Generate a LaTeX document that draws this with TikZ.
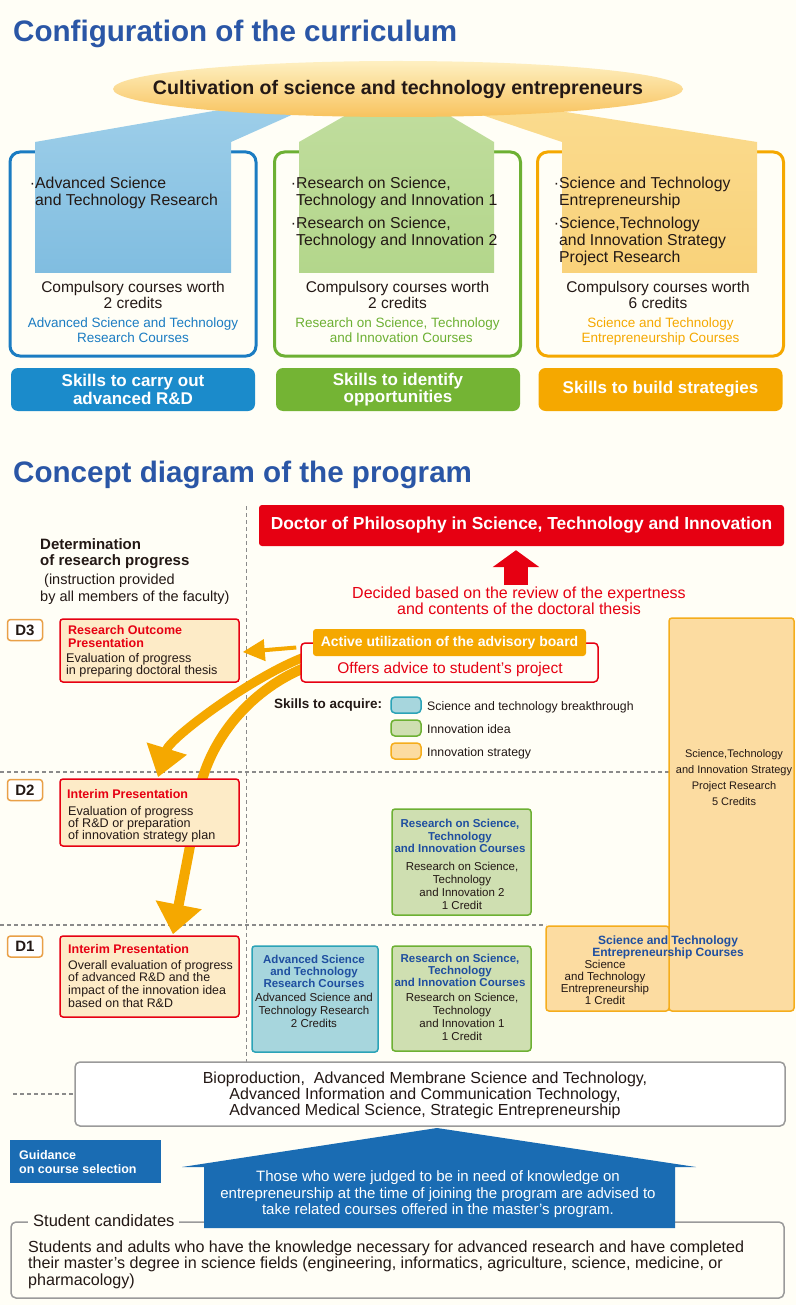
\documentclass[tikz,border=0pt]{standalone}
\usepackage{fontspec}
\setmainfont{Liberation Sans}
\usetikzlibrary{shapes.geometric,arrows.meta}
\definecolor{pageBg}{HTML}{FFFEF6}
\definecolor{titleBlue}{HTML}{2A56A6}
\definecolor{txtDark}{HTML}{231815}
\definecolor{cBlue}{HTML}{1B7CC2}
\definecolor{cGreen}{HTML}{6DB033}
\definecolor{cOrange}{HTML}{F5A800}
\definecolor{skillBlue}{HTML}{1B8BCB}
\definecolor{skillGreen}{HTML}{74B434}
\definecolor{beamBlueTop}{HTML}{9DCEE9}
\definecolor{beamBlue}{HTML}{80BDE0}
\definecolor{beamGreenTop}{HTML}{C0DD9D}
\definecolor{beamGreen}{HTML}{B3D68B}
\definecolor{beamOrangeTop}{HTML}{FADB8E}
\definecolor{beamOrange}{HTML}{F9D27A}
\definecolor{goalTop}{HTML}{FEF0C2}
\definecolor{goalBottom}{HTML}{F8C35E}
\definecolor{courseBlue}{HTML}{1F4FA0}
\definecolor{cRed}{HTML}{E60012}
\definecolor{dFill}{HTML}{FDEBC7}
\definecolor{tagEdge}{HTML}{E9A047}
\definecolor{tealFill}{HTML}{A7D6DD}
\definecolor{tealEdge}{HTML}{2BA3B7}
\definecolor{greenFill}{HTML}{CFDFB1}
\definecolor{orFill}{HTML}{FCDCA1}
\definecolor{orEdge}{HTML}{F5AD1C}
\definecolor{gridGray}{HTML}{8A8A8A}
\definecolor{boxGray}{HTML}{9A9A9A}
\definecolor{guideBlue}{HTML}{1A6CB3}
\newcommand{\fsz}[2]{\fontsize{#1}{#2}\selectfont}
\pgfdeclarelayer{back}
\pgfdeclarelayer{arrowlayer}
\pgfsetlayers{back,arrowlayer,main}

\tikzset{
  heading/.style={anchor=base west, inner sep=0, text=titleBlue, font=\fsz{29.6}{30}\bfseries},
  coursebox/.style={line width=3pt, rounded corners=10pt, minimum width=246, minimum height=204, inner sep=0},
  skillbtn/.style={rounded corners=7pt, minimum width=244, minimum height=43, inner sep=0, text=white, align=center, font=\fsz{17}{17.5}\bfseries},
  bullettxt/.style={anchor=north west, inner sep=0, align=left, text=txtDark, font=\fsz{15.8}{16.7}},
  credittxt/.style={anchor=north, inner sep=0, align=center, text=txtDark, font=\fsz{15.5}{16.5}},
  coursename/.style={anchor=north, inner sep=0, align=center, font=\fsz{13.5}{15}},
  presbox/.style={draw=cRed, fill=dFill, line width=1.5pt, rounded corners=3pt, minimum width=179, inner sep=0},
  prestitle/.style={anchor=north west, inner sep=0, align=left, text=cRed, font=\fsz{12.5}{13}\bfseries},
  presbody/.style={anchor=north west, inner sep=0, align=left, text=txtDark, font=\fsz{12.6}{12.3}},
  yeartag/.style={draw=tagEdge, fill=white, line width=1.5pt, rounded corners=3pt, minimum width=35, minimum height=21, inner sep=0, font=\fsz{15}{15}\bfseries, text=txtDark},
  unitbox/.style={line width=1.5pt, rounded corners=3pt, inner sep=0},
  unittitle/.style={anchor=north, inner sep=0, align=center, text=courseBlue, font=\fsz{11.5}{12.3}\bfseries},
  unitbody/.style={anchor=north, inner sep=0, align=center, text=txtDark, font=\fsz{11.5}{13}},
  legendkey/.style={unitbox, minimum width=30, minimum height=16, rounded corners=4pt},
  legendtxt/.style={anchor=base west, inner sep=0, text=txtDark, font=\fsz{12.3}{12}},
  gridline/.style={draw=gridGray, line width=1.2pt, dash pattern=on 4pt off 3pt},
  flowarrow/.style={draw=cOrange, line cap=butt},
  framebox/.style={draw=boxGray, line width=1.5pt, rounded corners=5pt, inner sep=0},
}

\begin{document}
\begin{tikzpicture}[x=1pt,y=-1pt]
  \begin{pgfonlayer}{back}
    \fill[pageBg] (0,0) rectangle (796,1305);
  \end{pgfonlayer}
  \useasboundingbox (0,0) rectangle (796,1305);

  % Configuration of the curriculum
  \node[heading] (headCurr) at (13,42) {Configuration of the curriculum};

  % three course groups
  \node[coursebox, draw=cBlue] (boxRD) at (133,254) {};
  \node[coursebox, draw=cGreen] (boxOpp) at (397.5,254) {};
  \node[coursebox, draw=cOrange] (boxStr) at (660.5,254) {};

  % beams from the goal
  \shade[top color=beamBlueTop, bottom color=beamBlue] (35,273) -- (35,142) -- (225,109) -- (305,109) -- (231,142) -- (231,273) -- cycle;
  \shade[top color=beamGreenTop, bottom color=beamGreen] (299,273) -- (299,142) -- (355,110) -- (440,110) -- (494,142) -- (494,273) -- cycle;
  \shade[top color=beamOrangeTop, bottom color=beamOrange] (562,273) -- (562,142) -- (470,111) -- (540,108) -- (757,142) -- (757,273) -- cycle;

  % goal
  \node[ellipse, minimum width=570, minimum height=56, inner sep=0, top color=goalTop, bottom color=goalBottom] (goal) at (398,89) {};
  \node[inner sep=0, text=txtDark, font=\fsz{19.6}{19.6}\bfseries] (goalText) at (goal.center) {Cultivation of science and technology entrepreneurs};

  % course lists
  \node[bullettxt] (itemRD) at (35,177) {\llap{·}Advanced Science\\and Technology Research};
  \node[bullettxt] (itemOppA) at (296,177) {\llap{·}Research on Science,\\Technology and Innovation 1};
  \node[bullettxt] (itemOppB) at (296,217) {\llap{·}Research on Science,\\Technology and Innovation 2};
  \node[bullettxt] (itemStrA) at (559,177) {\llap{·}Science and Technology\\Entrepreneurship};
  \node[bullettxt] (itemStrB) at (559,217) {\llap{·}Science,Technology\\and Innovation Strategy\\Project Research};

  \node[credittxt] (credRD) at (133,281) {Compulsory courses worth\\2 credits};
  \node[credittxt] (credOpp) at (397.5,281) {Compulsory courses worth\\2 credits};
  \node[credittxt] (credStr) at (658,281) {Compulsory courses worth\\6 credits};

  \node[coursename, text=cBlue] (nameRD) at (133,318) {Advanced Science and Technology\\Research Courses};
  \node[coursename, text=cGreen] (nameOpp) at (397.5,318) {Research on Science, Technology\\\ \ and Innovation Courses};
  \node[coursename, text=cOrange] (nameStr) at (660.5,318) {Science and Technology\\Entrepreneurship Courses};

  % skills
  \node[skillbtn, fill=skillBlue] (skillRD) at (133,389.5) {Skills to carry out\\advanced R\&D};
  \node[skillbtn, fill=skillGreen] (skillOpp) at (398,389.5) {Skills to identify\\opportunities};
  \node[skillbtn, fill=cOrange] (skillStr) at (660.5,389.5) {Skills to build strategies};

  % Concept diagram of the program
  \node[heading] (headConc) at (13,482) {Concept diagram of the program};

  \begin{pgfonlayer}{back}
    \draw[gridline] (246.5,506) -- (246.5,1062);
    \draw[gridline] (0,772) -- (669,772);
    \draw[gridline] (0,925) -- (546,925);
    \draw[gridline] (13,1094) -- (75,1094);
  \end{pgfonlayer}

  % degree
  \node[fill=cRed, rounded corners=3pt, minimum width=525, minimum height=41, inner sep=0, text=white,
        font=\fsz{17.4}{17}\bfseries] (degree) at (521.5,525.5) {Doctor of Philosophy in Science, Technology and Innovation};
  \node[anchor=north, inner sep=0, align=center, text=cRed, font=\fsz{16}{16}] (review) at (519,586.5)
        {Decided based on the review of the expertness\\and contents of the doctoral thesis};
  \draw[cRed, line width=24pt, -{Triangle[width=46pt,length=17pt]}] ([xshift=-3pt,yshift=1.5pt]review.north) -- ([xshift=-5.5pt,yshift=-4pt]degree.south);

  % advisory board
  \node[draw=cRed, fill=pageBg, line width=1.5pt, rounded corners=4pt, minimum width=297, minimum height=39, inner sep=0] (advFrame) at (449.5,662.5) {};
  \node[fill=cOrange, rounded corners=3pt, minimum width=273, minimum height=27, inner sep=0, text=white,
        font=\fsz{14}{14}\bfseries] (advBoard) at (449.5,642.5) {Active utilization of the advisory board};
  \node[anchor=base, inner sep=0, text=cRed, font=\fsz{15.5}{15.5}] (advice) at (450,673.5) {Offers advice to student’s project};

  % legend
  \node[anchor=base west, inner sep=0, text=txtDark, font=\fsz{13.5}{13.5}\bfseries] (acquire) at (274,708) {Skills to acquire:};
  \node[legendkey, draw=tealEdge, fill=tealFill] (keySci) at (406,705) {};
  \node[legendkey, draw=cGreen, fill=greenFill] (keyIdea) at (406,728) {};
  \node[legendkey, draw=orEdge, fill=orFill] (keyStr) at (406,751) {};
  \node[legendtxt] (lblSci) at (427,710) {Science and technology breakthrough};
  \node[legendtxt] (lblIdea) at (427,733) {Innovation idea};
  \node[legendtxt] (lblStr) at (427,756) {Innovation strategy};

  % research progress
  \node[anchor=north west, inner sep=0, align=left, text=txtDark, font=\fsz{15}{15.5}\bfseries] (determ) at (40,538.5)
        {Determination\\of research progress};
  \node[anchor=north west, inner sep=0, align=left, text=txtDark, font=\fsz{14.5}{17}] (instr) at (40,574)
        {\hspace{4pt}(instruction provided\\by all members of the faculty)};

  \node[yeartag] (tagD3) at (25,630) {D3};
  \node[yeartag] (tagD2) at (25,790) {D2};
  \node[yeartag] (tagD1) at (25,946.5) {D1};

  \node[presbox, minimum height=63] (presD3) at (149.5,650.5) {};
  \node[prestitle] (presD3head) at (68,625) {Research Outcome\\Presentation};
  \node[presbody] (presD3text) at (66,653) {Evaluation of progress\\in preparing doctoral thesis};

  \node[presbox, minimum height=67] (presD2) at (149.5,812.5) {};
  \node[prestitle] (presD2head) at (67,789) {Interim Presentation};
  \node[presbody] (presD2text) at (68,806) {Evaluation of progress\\of R\&D or preparation\\of innovation strategy plan};

  \node[presbox, minimum height=81] (presD1) at (149.5,976.5) {};
  \node[prestitle] (presD1head) at (68,944) {Interim Presentation};
  \node[presbody, font=\fsz{12.4}{12.7}] (presD1text) at (68,960)
        {Overall evaluation of progress\\of advanced R\&D and the\\impact of the innovation idea\\based on that R\&D};

  % courses per year
  \node[unitbox, draw=orEdge, fill=orFill, minimum width=125, minimum height=393] (stratProj) at (731.5,814.5) {};
  \node[unitbody, font=\fsz{11}{16}] (stratProjText) at (734,749)
        {Science,Technology\\and Innovation Strategy\\Project Research\\5 Credits};
  \node[unitbox, draw=orEdge, fill=orFill, minimum width=123, minimum height=85] (entre) at (607.5,968.5) {};
  \node[unittitle, font=\fsz{12}{12}\bfseries] (entreHead) at (668,935.4) {Science and Technology\\Entrepreneurship Courses};
  \node[unitbody, font=\fsz{11.5}{12}] (entreText) at (605,960) {Science\\and Technology\\Entrepreneurship\\1 Credit};

  \node[unitbox, draw=cGreen, fill=greenFill, minimum width=139, minimum height=106] (innovB) at (461.5,862) {};
  \node[unittitle] (innovBhead) at (460,819.4) {Research on Science,\\Technology\\and Innovation Courses};
  \node[unitbody] (innovBtext) at (462,862.4) {Research on Science,\\Technology\\and Innovation 2\\1 Credit};

  \node[unitbox, draw=cGreen, fill=greenFill, minimum width=139, minimum height=105] (innovA) at (461.5,998.5) {};
  \node[unittitle] (innovAhead) at (460,953.7) {Research on Science,\\Technology\\and Innovation Courses};
  \node[unitbody] (innovAtext) at (462,993.4) {Research on Science,\\Technology\\and Innovation 1\\1 Credit};

  \node[unitbox, draw=tealEdge, fill=tealFill, minimum width=126, minimum height=106] (advSci) at (315,999) {};
  \node[unittitle] (advSciHead) at (314,954.7) {Advanced Science\\and Technology\\Research Courses};
  \node[unitbody] (advSciText) at (314,993.4) {Advanced Science and\\Technology Research\\2 Credits};

  % fields
  \node[framebox, fill=white, minimum width=710, minimum height=64] (fields) at (430,1094) {};
  \node[anchor=north, inner sep=0, align=center, text=txtDark, font=\fsz{16}{16}] (fieldsText) at (425,1071.5)
        {Bioproduction,\ \ Advanced Membrane Science and Technology,\\Advanced Information and Communication Technology,\\Advanced Medical Science, Strategic Entrepreneurship};

  % guidance
  \node[fill=guideBlue, minimum width=151, minimum height=43, inner sep=0] (guide) at (85.5,1161.5) {};
  \node[anchor=north west, inner sep=0, align=left, text=white, font=\fsz{12.5}{14}\bfseries] (guideText) at (19,1150)
        {Guidance\\on course selection};

  % student candidates
  \node[framebox, minimum width=773, minimum height=76] (cand) at (397.5,1260) {};
  \node[anchor=base west, fill=pageBg, inner xsep=5pt, inner ysep=2pt, text=txtDark, font=\fsz{16.5}{16.5}] (candLabel) at (28,1226.5) {Student candidates};
  \node[anchor=north west, inner sep=0, align=left, text=txtDark, font=\fsz{16.1}{16.5}] (candText) at (28,1240.5)
        {Students and adults who have the knowledge necessary for advanced research and have completed\\their master’s degree in science fields (engineering, informatics, agriculture, science, medicine, or\\pharmacology)};

  \fill[guideBlue] (204,1228) -- (204,1167) -- (182,1167) -- (437,1128) -- (696,1167) -- (675,1167) -- (675,1228) -- cycle;
  \node[anchor=north, inner sep=0, align=center, text=white, font=\fsz{15}{16.5}] (adviseText) at (438,1170.5)
        {Those who were judged to be in need of knowledge on\\entrepreneurship at the time of joining the program are advised to\\take related courses offered in the master’s program.};

  % advice flows
  \begin{pgfonlayer}{arrowlayer}
    \draw[flowarrow, line width=4pt, -{Triangle[width=21pt,length=22pt]}] ([xshift=-4pt,yshift=15pt]advFrame.west) -- ([xshift=3pt,yshift=-1.5pt]presD3.east);
    \draw[flowarrow, line width=9pt, -{Triangle[width=40pt,length=30pt]}] ([xshift=4pt,yshift=5.5pt]advFrame.west) .. controls (250,678) and (170,738) .. ([xshift=8.5pt,yshift=1pt]presD2.north);
    \draw[flowarrow, line width=10pt, -{Triangle[width=45pt,length=30pt]}] ([xshift=4pt,yshift=-5.5pt]advFrame.west) .. controls (250,690) and (200,745) .. (196,815) -- ([xshift=23.5pt,yshift=1pt]presD1.north);
  \end{pgfonlayer}
\end{tikzpicture}
\end{document}
